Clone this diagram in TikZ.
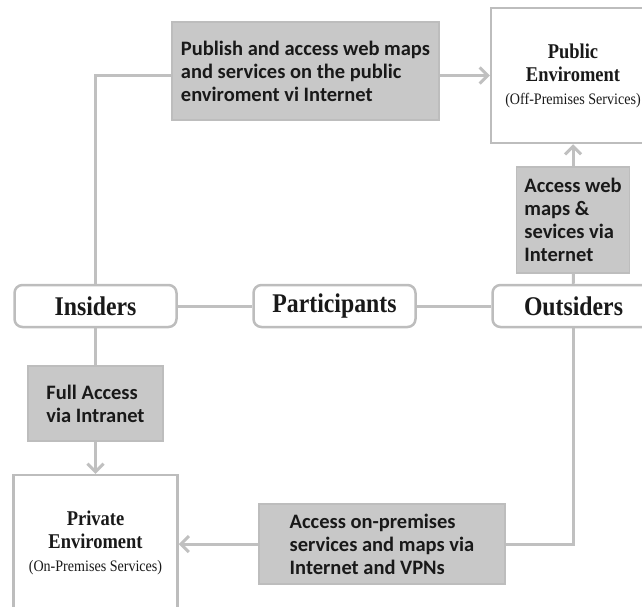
\documentclass[tikz,border=0pt]{standalone}
\usepackage{fontspec}
\setmainfont{Liberation Serif}
\newfontfamily\boxfont{Carlito}
\newfontfamily\namefont[FakeStretch=0.88]{Liberation Serif}
\usetikzlibrary{positioning,arrows.meta}
\definecolor{linegray}{HTML}{C0C0C0}
\definecolor{boxgray}{HTML}{C8C8C8}
\definecolor{edgegray}{HTML}{BDBDBD}

\begin{document}
\begin{tikzpicture}[x=1pt, y=-1pt, node distance={239pt}, line width=3pt, draw=linegray,
  >={Straight Barb[length=8pt,width=16pt]},
  who/.style = {draw=edgegray, line width=2.5pt, rounded corners=8pt, fill=white, minimum width=162pt, minimum height=42pt, text=black!90, font=\namefont\bfseries\fontsize{27}{27}\selectfont},
  env/.style = {draw=edgegray, line width=2.5pt, fill=white, minimum width=164pt, minimum height=135pt, align=center, text=black!90, font=\namefont\bfseries\fontsize{21}{23}\selectfont},
  via/.style = {draw=edgegray, line width=1.5pt, fill=boxgray, align=left, inner sep=0pt, text=black!90, font=\boxfont\bfseries\fontsize{20.5}{23}\selectfont}]
\useasboundingbox (0,0) rectangle (642,607);

\node[who] (1) at (95.5,306) {Insiders};
\node[who] (2) [right of=1] {Participants};
\node[who] (3) [right of=2] {Outsiders};

\node[via, minimum width=267pt, minimum height=98pt] (4) at (305.5,71) {Publish and access web maps\\and services on the public\\enviroment vi Internet};
\node[env] (5) at (573,75.5) {Public\\Enviroment\\{\mdseries\fontsize{16}{18}\selectfont (Off-Premises Services)}};
\node[via, minimum width=113pt, minimum height=106pt] (6) at (573,220) {Access web\\maps \&\\sevices via\\Internet};

\node[via, minimum width=135pt, minimum height=75pt] (7) at (95.5,403.5) {Full Access\\via Intranet};
\node[env] (8) at (95.5,542.5) {Private\\Enviroment\\{\mdseries\fontsize{16}{18}\selectfont (On-Premises Services)}};
\node[via, minimum width=246pt, minimum height=80pt] (9) at (382,544) {Access on-premises\\services and maps via\\Internet and VPNs};

\draw (1) -- (2);
\draw (2) -- (3);
\draw (1) |- (4.west |- 5);
\draw [->] (4.east |- 5) -- (5);
\draw (3) -- (6);
\draw [->] (6) -- (5);
\draw (1) -- (7);
\draw [->] (7) -- (8);
\draw (3) |- (9);
\draw [->] (9) -- (8.east |- 9);

\end{tikzpicture}
\end{document}
